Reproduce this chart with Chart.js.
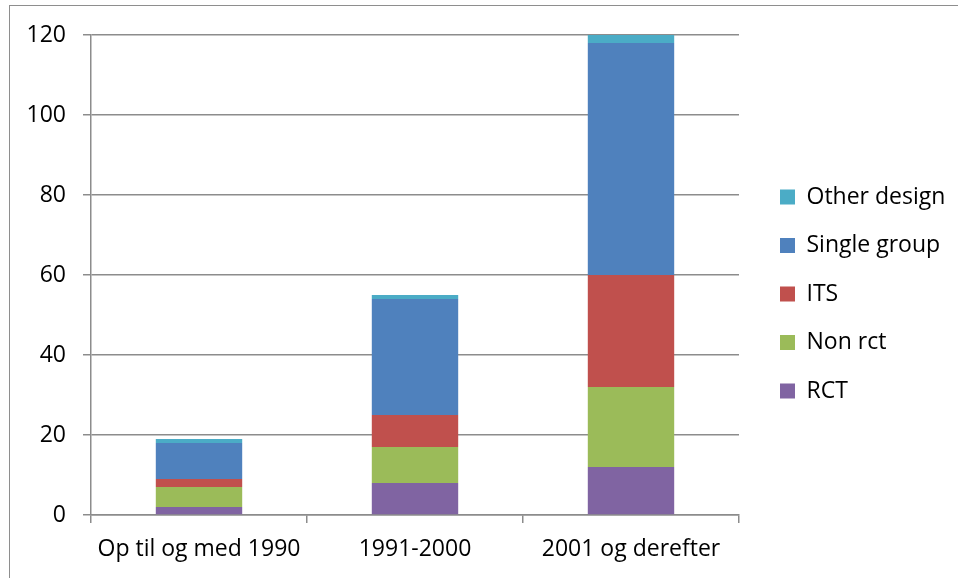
<!DOCTYPE html>
<html>
<head>
<meta charset="utf-8">
<script src="https://cdn.jsdelivr.net/npm/chart.js@4"></script>
<style>
  html, body { margin: 0; padding: 0; background: #fff; }
  #wrap { position: relative; width: 958px; height: 578px; }
  #frame { position: absolute; left: 9px; top: 5px; width: 960px; height: 600px;
           border-left: 1.5px solid #8e8e8e; border-top: 1.5px solid #8e8e8e; }
  canvas { position: absolute; left: 0; top: 0; }
</style>
</head>
<body>
<div id="wrap">
  <div id="frame"></div>
  <canvas id="chart" width="958" height="578"></canvas>
</div>
<script>
const categories = ["Op til og med 1990", "1991-2000", "2001 og derefter"];
const rct = [2, 8, 12];
const nonRct = [5, 9, 20];
const its = [2, 8, 28];
const singleGroup = [9, 29, 58];
const otherDesign = [1, 1, 2];
const yTicks = [0, 20, 40, 60, 80, 100, 120];

const font = { family: "'Open Sans', Lato, sans-serif", size: 23 };
const grey = "#8c8c8c";
const legendPad = 25.5;
const legendW = 958 - 739;

// fixed legend width so the plot ends at the same x, then move the legend
// to where Excel puts it
const legendPlace = {
  id: "legendPlace",
  beforeLayout(chart) {
    const lg = chart.legend;
    if (lg && !lg._fixed) {
      const fit = lg.fit;
      lg.fit = function () {
        fit.call(this);
        this.width = legendW;
      };
      lg._fixed = true;
    }
  },
  afterLayout(chart) {
    const lg = chart.legend;
    const w = lg.width, h = lg.height;
    lg.left = 780 - legendPad;
    lg.right = lg.left + w;
    lg.top = 197 - legendPad - font.size / 2;
    lg.bottom = lg.top + h;
  },
};

new Chart(document.getElementById("chart"), {
  type: "bar",
  data: {
    labels: categories,
    datasets: [
      { label: "RCT", data: rct, backgroundColor: "#8064A2" },
      { label: "Non rct", data: nonRct, backgroundColor: "#9BBB59" },
      { label: "ITS", data: its, backgroundColor: "#C0504D" },
      { label: "Single group", data: singleGroup, backgroundColor: "#4F81BD" },
      { label: "Other design", data: otherDesign, backgroundColor: "#4BACC6" },
    ],
  },
  options: {
    responsive: false,
    animation: false,
    barPercentage: 0.4,
    categoryPercentage: 1,
    layout: { padding: { left: 10, top: 35, right: 0, bottom: 0 } },
    scales: {
      x: {
        stacked: true,
        grid: { drawOnChartArea: false, drawTicks: true, tickLength: 8, color: grey, lineWidth: 1.5 },
        border: { display: true, color: grey, width: 1.5 },
        ticks: { color: "#000", font, padding: 13, maxRotation: 0 },
        afterFit: (s) => { s.height = 63; },
      },
      y: {
        stacked: true,
        min: 0,
        max: 120,
        afterBuildTicks: (s) => { s.ticks = yTicks.map((v) => ({ value: v })); },
        grid: { color: grey, lineWidth: 1.5, tickLength: 8 },
        border: { display: true, color: grey, width: 1.5 },
        ticks: { color: "#000", font, padding: 17 },
        afterFit: (s) => { s.width = 81; },
      },
    },
    plugins: {
      legend: {
        position: "right",
        align: "start",
        reverse: true,
        labels: { color: "#000", font, boxWidth: 15, boxHeight: 15, padding: legendPad },
      },
      tooltip: { enabled: false },
    },
  },
  plugins: [legendPlace],
});
</script>
</body>
</html>
